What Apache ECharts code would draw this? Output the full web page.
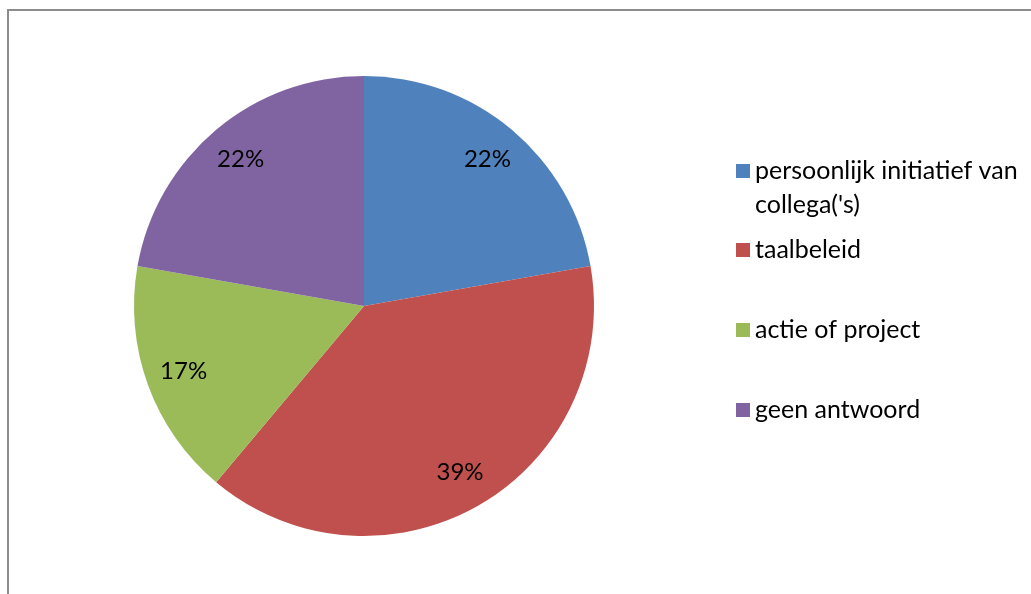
<!DOCTYPE html>
<html>
<head>
<meta charset="utf-8">
<style>
  html, body { margin: 0; padding: 0; background: #ffffff; }
  #chart { width: 1031px; height: 594px; }
</style>
<script src="https://cdn.jsdelivr.net/npm/echarts@6/dist/echarts.min.js"></script>
</head>
<body>
<div id="chart"></div>
<script>
// Answers per category (counts), drawn as shares of the whole
const categories = ["persoonlijk initiatief van collega('s)", 'taalbeleid', 'actie of project', 'geen antwoord'];
const legendLabels = ["persoonlijk initiatief van\ncollega('s)", 'taalbeleid', 'actie of project', 'geen antwoord'];
const counts = [4, 7, 3, 4];
const colors = ['#4F81BD', '#C0504D', '#9BBB59', '#8064A2'];

// Layout
const CENTER = [364, 306];
const RADIUS = 230;
const LABEL_RADIUS = 189;          // distance of the percentage labels from the centre
const LINE_H = 34;                 // legend line height
const legendCenters = [171, 250, 330, 410];
const FONT = 'Lato, "Open Sans", sans-serif';

const total = counts.reduce((a, b) => a + b, 0);
const pieData = categories.map((name, i) => ({ name, value: counts[i], itemStyle: { color: colors[i] } }));

// One legend block per entry; a two-line entry gets an empty leading line
// so that its icon lines up with the first line of text
const legends = categories.map((name, i) => {
  const lines = legendLabels[i].split('\n').length;
  const shown = lines > 1 ? '\n' + legendLabels[i] : legendLabels[i];
  const n = lines > 1 ? lines + 1 : 1;
  return {
    data: [name],
    left: 736,
    top: legendCenters[i] - n * LINE_H / 2,
    padding: 0,
    orient: 'vertical',
    itemWidth: 14,
    itemHeight: 14,
    itemGap: 0,
    icon: 'rect',
    selectedMode: false,
    formatter: () => shown,
    textStyle: {
      fontFamily: FONT,
      fontSize: 25,
      color: '#000000',
      lineHeight: LINE_H
    }
  };
});

const chart = echarts.init(document.getElementById('chart'), null, { renderer: 'canvas' });
chart.setOption({
  animation: false,
  backgroundColor: '#ffffff',
  legend: legends,
  graphic: [{
    type: 'polyline',
    shape: { points: [[8, 594], [8, 10], [1031, 10]] },
    style: { stroke: '#8c8c8c', lineWidth: 2, fill: null },
    silent: true
  }],
  series: [
    {
      type: 'pie',
      center: CENTER,
      radius: [0, RADIUS],
      startAngle: 90,
      clockwise: true,
      data: pieData,
      label: { show: false },
      labelLine: { show: false },
      emphasis: { disabled: true },
      silent: true
    },
    {
      // transparent ring that only carries the percentage labels
      type: 'pie',
      center: CENTER,
      radius: [2 * LABEL_RADIUS - RADIUS, RADIUS],
      startAngle: 90,
      clockwise: true,
      data: pieData.map(d => ({ name: d.name, value: d.value, itemStyle: { color: 'rgba(0,0,0,0)' } })),
      label: {
        show: true,
        position: 'inside',
        formatter: p => Math.round(p.value / total * 100) + '%',
        fontFamily: FONT,
        fontSize: 24,
        color: '#000000'
      },
      labelLine: { show: false },
      emphasis: { disabled: true },
      silent: true,
      legendHoverLink: false
    }
  ]
});
</script>
</body>
</html>
